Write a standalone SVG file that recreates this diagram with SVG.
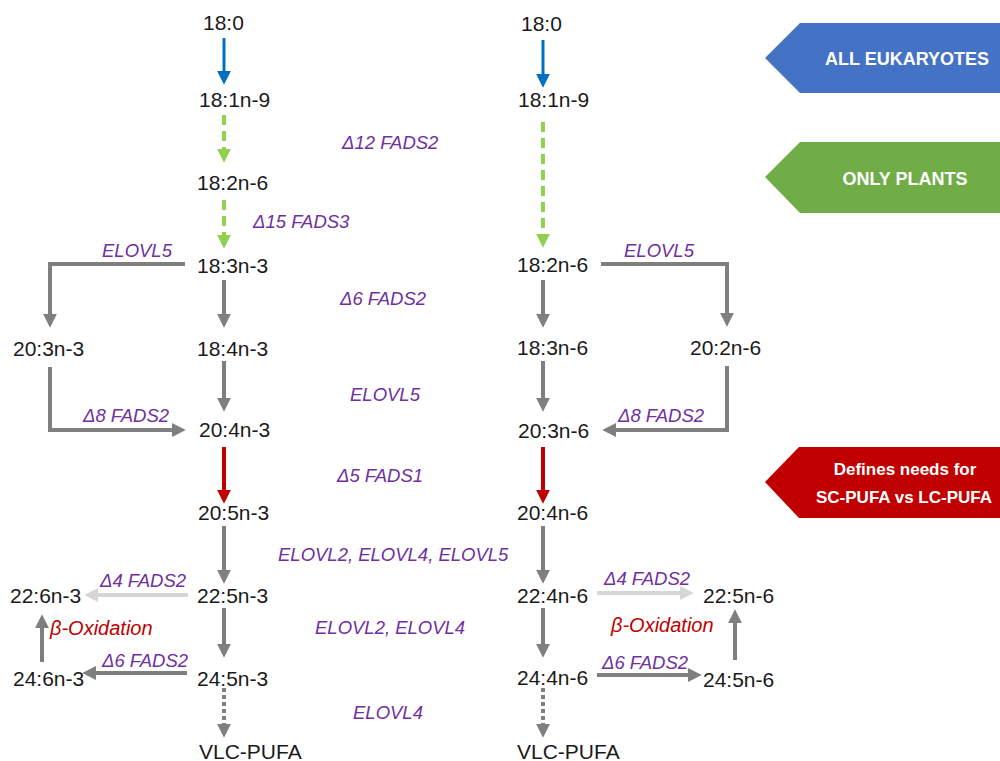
<svg xmlns="http://www.w3.org/2000/svg" width="1000" height="761" viewBox="0 0 1000 761">
<style>
.n{font-family:"Liberation Sans",Arial,sans-serif;font-size:21px;fill:#1a1a1a}
.e{font-family:"Liberation Sans",Arial,sans-serif;font-size:18.5px;font-style:italic;fill:#7030A0}
.b{font-family:"Liberation Sans",Arial,sans-serif;font-size:20px;font-style:italic;fill:#C00000}
.t{font-family:"Liberation Sans",Arial,sans-serif;font-weight:bold;fill:#ffffff;text-anchor:middle}
.c{fill:none;stroke-width:4}
.gr{stroke:#7F7F7F;marker-end:url(#mg)}
.lg{stroke:#D6D6D6;marker-end:url(#ml)}
.bl{stroke:#0070C0;stroke-width:3;marker-end:url(#mb)}
.gn{stroke:#92D050;stroke-dasharray:10 6;marker-end:url(#mn)}
.rd{stroke:#C00000;marker-end:url(#mr)}
.dt{stroke:#7F7F7F;stroke-dasharray:4 3;marker-end:url(#mg)}
</style>
<defs>
<marker id="mg" markerUnits="userSpaceOnUse" markerWidth="14" markerHeight="14" viewBox="0 0 13 13" refX="3" refY="6.5" orient="auto"><path d="M0,0 L13,6.5 L0,13 Z" fill="#7F7F7F"/></marker>
<marker id="ml" markerUnits="userSpaceOnUse" markerWidth="14" markerHeight="14" viewBox="0 0 13 13" refX="3" refY="6.5" orient="auto"><path d="M0,0 L13,6.5 L0,13 Z" fill="#D6D6D6"/></marker>
<marker id="mb" markerUnits="userSpaceOnUse" markerWidth="14" markerHeight="14" viewBox="0 0 13 13" refX="3" refY="6.5" orient="auto"><path d="M0,0 L13,6.5 L0,13 Z" fill="#0070C0"/></marker>
<marker id="mn" markerUnits="userSpaceOnUse" markerWidth="14" markerHeight="14" viewBox="0 0 13 13" refX="3" refY="6.5" orient="auto"><path d="M0,0 L13,6.5 L0,13 Z" fill="#92D050"/></marker>
<marker id="mr" markerUnits="userSpaceOnUse" markerWidth="14" markerHeight="14" viewBox="0 0 13 13" refX="3" refY="6.5" orient="auto"><path d="M0,0 L13,6.5 L0,13 Z" fill="#C00000"/></marker>
</defs>
<rect width="1000" height="761" fill="#ffffff"/>

<g id="connectors">
<path class="c bl" d="M224,38 V74"/>
<path class="c bl" d="M543,40 V77"/>
<path class="c gn" d="M224,115 V152"/>
<path class="c gn" d="M224,200 V238"/>
<path class="c gn" d="M543,122 V237"/>
<path class="c gr" d="M224,280 V317"/>
<path class="c gr" d="M224,361 V401"/>
<path class="c gr" d="M185,264 H50 V317"/>
<path class="c gr" d="M50,367 V430 H175"/>
<path class="c gr" d="M543,280 V317"/>
<path class="c gr" d="M543,361 V401"/>
<path class="c gr" d="M601,264 H727 V316"/>
<path class="c gr" d="M727,366 V430 H613"/>
<path class="c rd" d="M224,447 V493"/>
<path class="c rd" d="M543,447 V493"/>
<path class="c gr" d="M224,526 V573"/>
<path class="c gr" d="M224,608 V647"/>
<path class="c dt" d="M224,688 V727"/>
<path class="c gr" d="M543,526 V573"/>
<path class="c gr" d="M543,608 V647"/>
<path class="c dt" d="M543,688 V727"/>
<path class="c lg" d="M188,595 H95"/>
<path class="c gr" d="M42,662 V625"/>
<path class="c gr" d="M187,673 H93"/>
<path class="c lg" d="M597,593 H683"/>
<path class="c gr" d="M735,660 V620"/>
<path class="c gr" d="M597,675 H691"/>
</g>

<g id="labels">
<text class="e" x="342" y="149">Δ12 FADS2</text>
<text class="e" x="253" y="228">Δ15 FADS3</text>
<text class="e" x="340" y="305">Δ6 FADS2</text>
<text class="e" x="350" y="401">ELOVL5</text>
<text class="e" x="102" y="257">ELOVL5</text>
<text class="e" x="83" y="422">Δ8 FADS2</text>
<text class="e" x="624" y="257">ELOVL5</text>
<text class="e" x="618" y="422">Δ8 FADS2</text>
<text class="e" x="337" y="482">Δ5 FADS1</text>
<text class="e" x="278" y="561">ELOVL2, ELOVL4, ELOVL5</text>
<text class="e" x="100" y="587">Δ4 FADS2</text>
<text class="b" x="50" y="635">β-Oxidation</text>
<text class="e" x="315" y="634">ELOVL2, ELOVL4</text>
<text class="e" x="102" y="667">Δ6 FADS2</text>
<text class="e" x="353" y="719">ELOVL4</text>
<text class="e" x="604" y="585">Δ4 FADS2</text>
<text class="b" x="611" y="632">β-Oxidation</text>
<text class="e" x="602" y="669">Δ6 FADS2</text>
</g>

<g id="n3-180"><text class="n" x="203" y="30">18:0</text></g>
<g id="n3-181n9"><text class="n" x="199" y="107">18:1n-9</text></g>
<g id="n3-182n6"><text class="n" x="197" y="190">18:2n-6</text></g>
<g id="n3-183n3"><text class="n" x="197" y="273">18:3n-3</text></g>
<g id="n3-184n3"><text class="n" x="197" y="356">18:4n-3</text></g>
<g id="n3-203n3"><text class="n" x="13" y="356">20:3n-3</text></g>
<g id="n3-204n3"><text class="n" x="199" y="437">20:4n-3</text></g>
<g id="n3-205n3"><text class="n" x="198" y="520">20:5n-3</text></g>
<g id="n3-225n3"><text class="n" x="197" y="603">22:5n-3</text></g>
<g id="n3-226n3"><text class="n" x="10" y="603">22:6n-3</text></g>
<g id="n3-245n3"><text class="n" x="197" y="686">24:5n-3</text></g>
<g id="n3-246n3"><text class="n" x="13" y="686">24:6n-3</text></g>
<g id="n3-vlc"><text class="n" x="199" y="759">VLC-PUFA</text></g>

<g id="n6-180"><text class="n" x="521" y="31">18:0</text></g>
<g id="n6-181n9"><text class="n" x="518" y="107">18:1n-9</text></g>
<g id="n6-182n6"><text class="n" x="517" y="272">18:2n-6</text></g>
<g id="n6-183n6"><text class="n" x="517" y="355">18:3n-6</text></g>
<g id="n6-202n6"><text class="n" x="690" y="355">20:2n-6</text></g>
<g id="n6-203n6"><text class="n" x="518" y="438">20:3n-6</text></g>
<g id="n6-204n6"><text class="n" x="517" y="520">20:4n-6</text></g>
<g id="n6-224n6"><text class="n" x="517" y="603">22:4n-6</text></g>
<g id="n6-225n6"><text class="n" x="703" y="603">22:5n-6</text></g>
<g id="n6-244n6"><text class="n" x="517" y="685">24:4n-6</text></g>
<g id="n6-245n6"><text class="n" x="703" y="687">24:5n-6</text></g>
<g id="n6-vlc"><text class="n" x="517" y="759">VLC-PUFA</text></g>

<g id="banner-all">
<path d="M765,58 L800,23 H1000 V93 H800 Z" fill="#4472C4"/>
<text class="t" x="907" y="65" font-size="18">ALL EUKARYOTES</text>
</g>
<g id="banner-plants">
<path d="M765,177 L800,142 H1000 V213 H800 Z" fill="#70AD47"/>
<text class="t" x="905" y="185" font-size="18">ONLY PLANTS</text>
</g>
<g id="banner-defines">
<path d="M765,482 L799,447 H1000 V518 H799 Z" fill="#C00000"/>
<text class="t" x="905" y="475" font-size="17">Defines needs for</text>
<text class="t" x="904" y="503" font-size="17">SC-PUFA vs LC-PUFA</text>
</g>
</svg>
